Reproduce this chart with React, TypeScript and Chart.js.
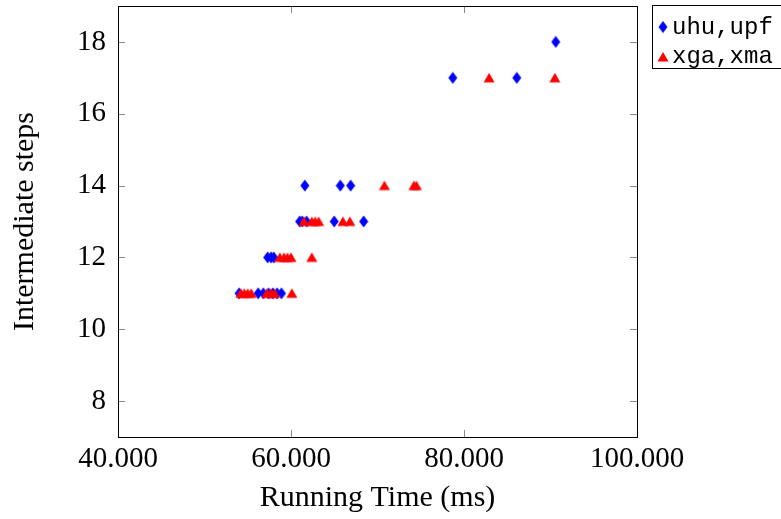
import React, { useEffect, useRef } from 'react';
import { Chart, registerables } from 'chart.js';

Chart.register(...registerables);

const seriesNames = ['uhu,upf', 'xga,xma'];
const seriesColors = ['#0000ff', '#ff0000'];

const uhuTime = [54000, 56200, 56800, 57400, 57900, 58400, 58900, 57300, 57700, 58000, 61000, 61300, 61800, 65000, 68400, 61600, 65700, 66900, 78700, 86100, 90600];
const uhuSteps = [11, 11, 11, 11, 11, 11, 11, 12, 12, 12, 13, 13, 13, 13, 13, 14, 14, 14, 17, 17, 18];

const xgaTime = [54200, 54600, 55000, 55400, 57200, 57700, 58100, 60100, 58700, 59200, 59600, 60000, 62400, 61500, 62400, 62800, 63200, 66000, 66800, 70800, 74200, 74500, 82900, 90500];
const xgaSteps = [11, 11, 11, 11, 11, 11, 11, 11, 12, 12, 12, 12, 12, 13, 13, 13, 13, 13, 13, 14, 14, 14, 17, 17];

const xTickValues = [40000, 60000, 80000, 100000];
const xTickLabels = ['40.000', '60.000', '80.000', '100.000'];
const yTickValues = [8, 10, 12, 14, 16, 18];
const yTickLabels = ['8', '10', '12', '14', '16', '18'];

const xTitle = 'Running Time (ms)';
const yTitle = 'Intermediate steps';

function makeDiamond(color: string): HTMLCanvasElement {
  const c = document.createElement('canvas');
  c.width = 10;
  c.height = 13;
  const g = c.getContext('2d')!;
  g.fillStyle = color;
  g.beginPath();
  g.moveTo(5, 0.5);
  g.lineTo(9.5, 6.5);
  g.lineTo(5, 12.5);
  g.lineTo(0.5, 6.5);
  g.closePath();
  g.fill();
  return c;
}

function makeTriangle(color: string): HTMLCanvasElement {
  const c = document.createElement('canvas');
  c.width = 12;
  c.height = 12;
  const g = c.getContext('2d')!;
  g.fillStyle = color;
  g.beginPath();
  g.moveTo(6, 1);
  g.lineTo(11.5, 10.5);
  g.lineTo(0.5, 10.5);
  g.closePath();
  g.fill();
  return c;
}

export default function App() {
  const ref = useRef<HTMLCanvasElement>(null);

  useEffect(() => {
    if (!ref.current) return;
    const markers = [makeDiamond(seriesColors[0]), makeTriangle(seriesColors[1])];

    const framePlugin = {
      id: 'pgfFrame',
      afterDraw(chart: any) {
        const ctx = chart.ctx as CanvasRenderingContext2D;
        const { left, right, top, bottom } = chart.chartArea;
        const xs = chart.scales.x;
        const ys = chart.scales.y;
        const tl = 7;
        ctx.save();
        ctx.strokeStyle = '#888888';
        ctx.lineWidth = 1;
        ctx.beginPath();
        xTickValues.forEach((v) => {
          const px = Math.round(xs.getPixelForValue(v)) + 0.5;
          ctx.moveTo(px, bottom);
          ctx.lineTo(px, bottom - tl);
          ctx.moveTo(px, top);
          ctx.lineTo(px, top + tl);
        });
        yTickValues.forEach((v) => {
          const py = Math.round(ys.getPixelForValue(v)) + 0.5;
          ctx.moveTo(left, py);
          ctx.lineTo(left + tl, py);
          ctx.moveTo(right, py);
          ctx.lineTo(right - tl, py);
        });
        ctx.stroke();
        ctx.strokeStyle = '#000000';
        ctx.lineWidth = 1;
        ctx.strokeRect(Math.round(left) + 0.5, Math.round(top) + 0.5, Math.round(right - left), Math.round(bottom - top));

        // legend
        const lx = 652.5;
        const ly = 5.5;
        ctx.fillStyle = '#ffffff';
        ctx.fillRect(lx, ly, 140, 63);
        ctx.strokeStyle = '#000000';
        ctx.strokeRect(lx, ly, 140, 63);
        ctx.font = '24px "Liberation Mono", "DejaVu Sans Mono", monospace';
        ctx.fillStyle = '#000000';
        ctx.textBaseline = 'alphabetic';
        ctx.textAlign = 'left';
        const rows = [27, 57];
        const bases = [34, 63];
        seriesNames.forEach((name, i) => {
          const m = markers[i];
          ctx.drawImage(m, 663 - m.width / 2, rows[i] - m.height / 2);
          ctx.fillText(name, 672, bases[i]);
        });
        ctx.restore();
      },
    };

    const chart = new Chart(ref.current, {
      type: 'scatter',
      data: {
        datasets: [
          {
            label: seriesNames[0],
            data: uhuTime.map((x, i) => ({ x, y: uhuSteps[i] })),
            pointStyle: markers[0] as any,
            backgroundColor: seriesColors[0],
            borderColor: seriesColors[0],
            pointRadius: 5,
            order: 2,
          },
          {
            label: seriesNames[1],
            data: xgaTime.map((x, i) => ({ x, y: xgaSteps[i] })),
            pointStyle: markers[1] as any,
            backgroundColor: seriesColors[1],
            borderColor: seriesColors[1],
            pointRadius: 5,
            order: 1,
          },
        ],
      },
      options: {
        responsive: false,
        animation: false,
        devicePixelRatio: 1,
        layout: { padding: { top: 5, right: 144, left: 0, bottom: 0 } },
        plugins: {
          legend: { display: false },
          tooltip: { enabled: false },
        },
        scales: {
          x: {
            type: 'linear',
            min: 40000,
            max: 100000,
            grid: { display: false, drawTicks: false },
            border: { display: false },
            afterBuildTicks: (s: any) => {
              s.ticks = xTickValues.map((v) => ({ value: v }));
            },
            afterFit: (s: any) => {
              s.height = 82;
              s.paddingLeft = 0;
              s.paddingRight = 0;
            },
            ticks: {
              padding: 5,
              maxRotation: 0,
              autoSkip: false,
              color: '#000000',
              font: { family: '"Liberation Serif", serif', size: 29 },
              callback: (v: any) => {
                const i = xTickValues.indexOf(Number(v));
                return i >= 0 ? xTickLabels[i] : '';
              },
            },
            title: {
              display: true,
              text: xTitle,
              color: '#000000',
              font: { family: '"Liberation Serif", serif', size: 30 },
              padding: { top: 0, bottom: 3 },
            },
          },
          y: {
            type: 'linear',
            min: 7,
            max: 19,
            grid: { display: false, drawTicks: false },
            border: { display: false },
            afterBuildTicks: (s: any) => {
              s.ticks = yTickValues.map((v) => ({ value: v }));
            },
            afterFit: (s: any) => {
              s.width = 118;
              s.paddingTop = 0;
              s.paddingBottom = 0;
            },
            ticks: {
              padding: 12,
              autoSkip: false,
              color: '#000000',
              font: { family: '"Liberation Serif", serif', size: 29 },
              callback: (v: any) => {
                const i = yTickValues.indexOf(Number(v));
                return i >= 0 ? yTickLabels[i] : '';
              },
            },
            title: {
              display: true,
              text: yTitle,
              color: '#000000',
              font: { family: '"Liberation Serif", serif', size: 30 },
              padding: { top: 7, bottom: 0 },
            },
          },
        },
      },
      plugins: [framePlugin],
    });
    return () => chart.destroy();
  }, []);

  return (
    <div style={{ position: 'fixed', left: 0, top: 0, width: 781, height: 519, background: '#ffffff' }}>
      <canvas ref={ref} width={781} height={519} style={{ width: 781, height: 519, display: 'block' }} />
    </div>
  );
}
